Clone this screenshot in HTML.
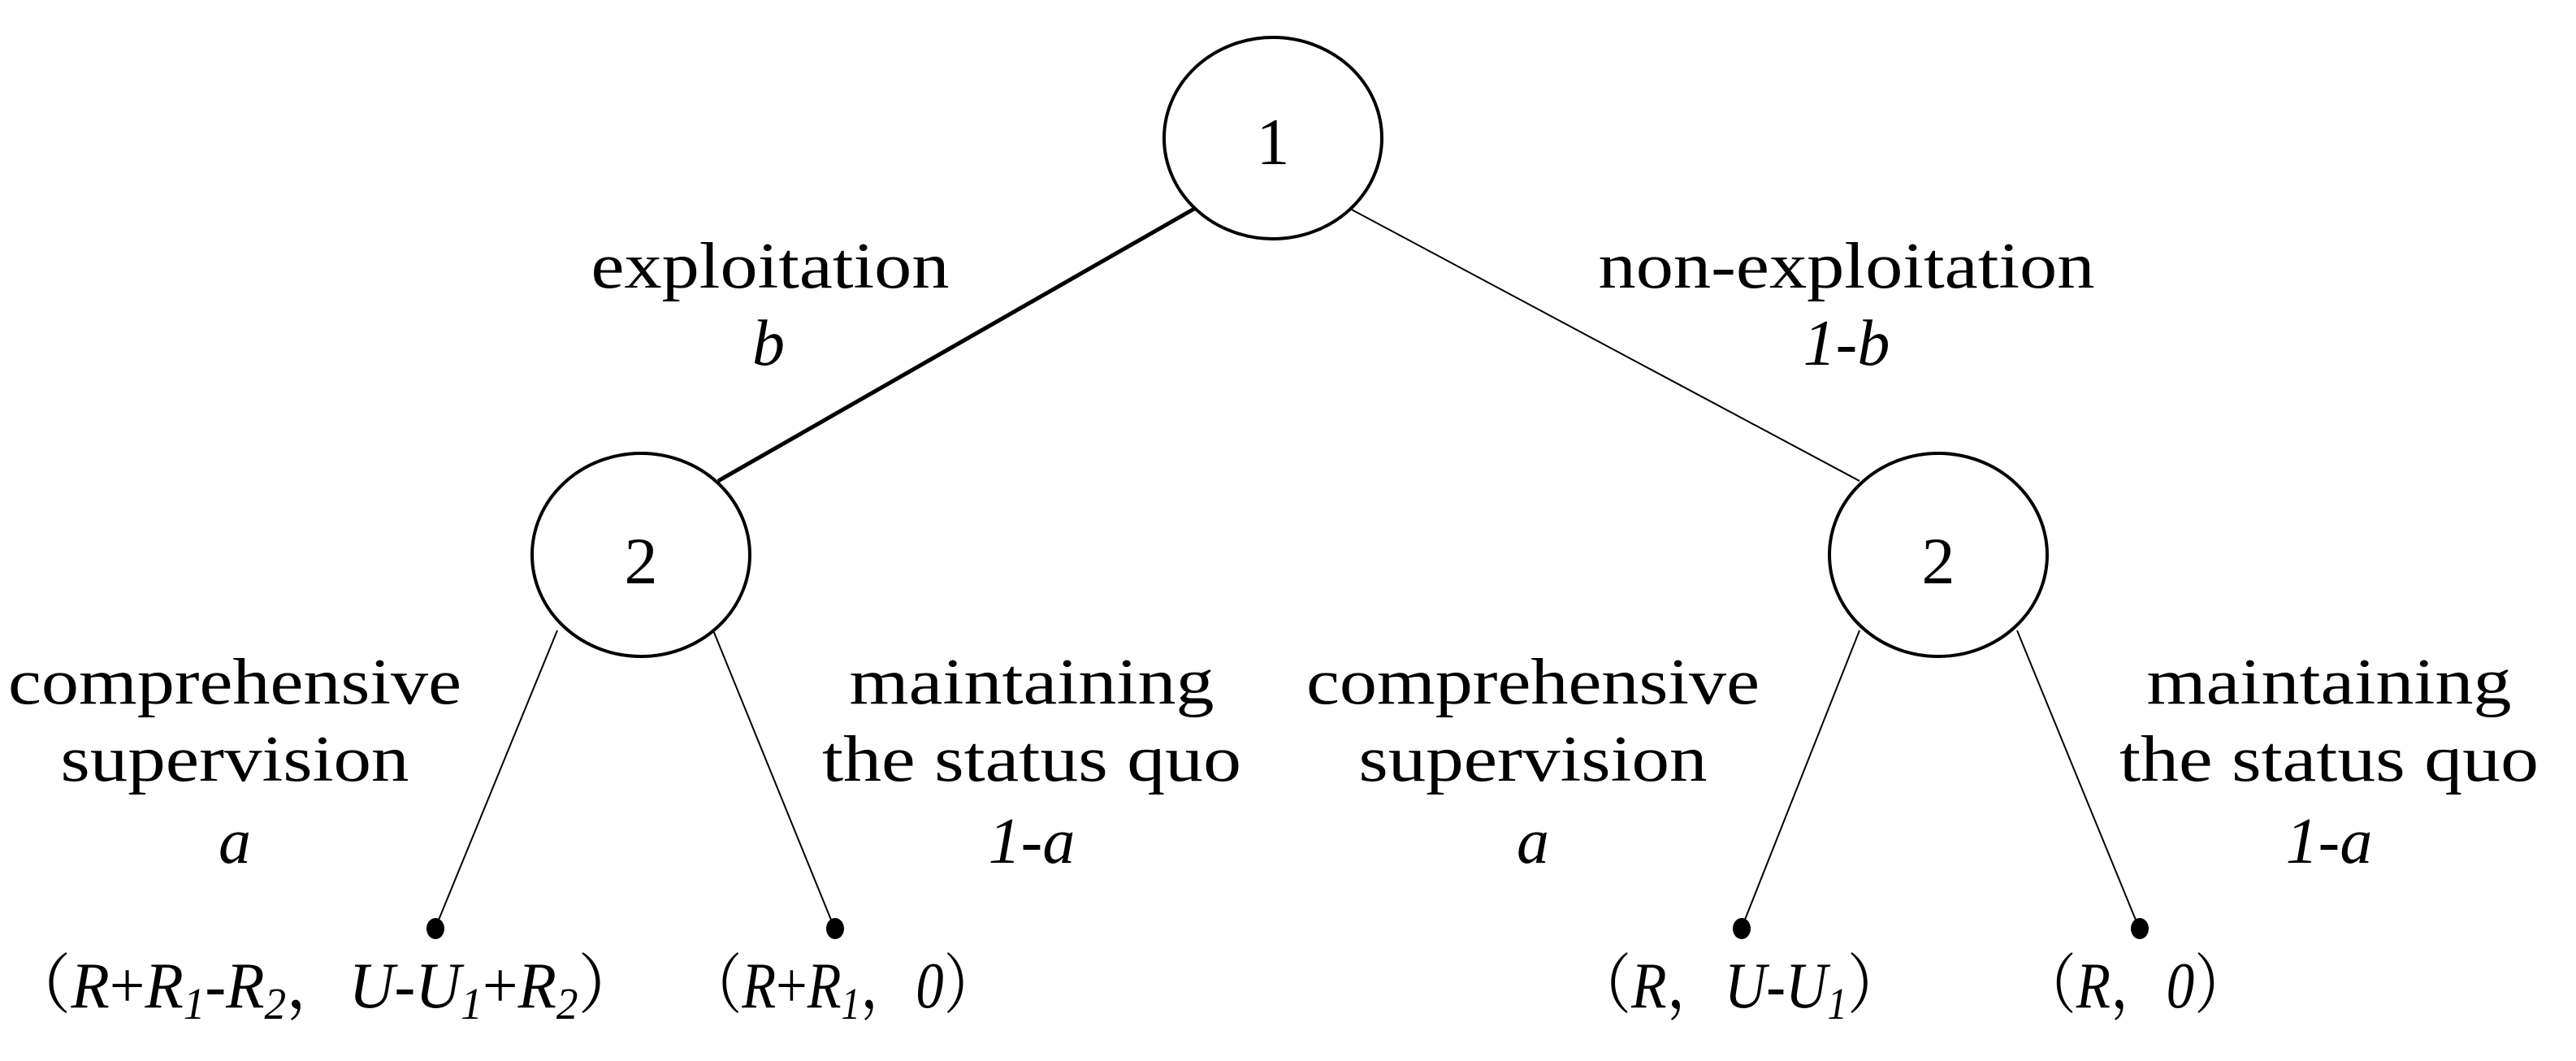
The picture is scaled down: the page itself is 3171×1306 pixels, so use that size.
<!DOCTYPE html>
<html><head><meta charset="utf-8"><style>html,body{margin:0;padding:0;background:#fff}svg{display:block}</style></head>
<body>
<svg width="3171" height="1306" viewBox="0 0 3171 1306" xmlns="http://www.w3.org/2000/svg" font-family="'Liberation Serif','Noto Serif CJK SC',serif" font-size="80" fill="#000">
<g stroke="#000" fill="none">
<ellipse cx="1567" cy="170" rx="134" ry="124" stroke-width="4"/>
<ellipse cx="789" cy="683" rx="134" ry="125" stroke-width="4"/>
<ellipse cx="2386" cy="683" rx="134" ry="125" stroke-width="4"/>
<line x1="1470" y1="257" x2="884" y2="592" stroke-width="5"/>
<line x1="1662" y1="257" x2="2289" y2="592" stroke-width="2"/>
<line x1="686" y1="776" x2="536" y2="1142" stroke-width="2"/>
<line x1="878" y1="776" x2="1027" y2="1142" stroke-width="2"/>
<line x1="2289" y1="776" x2="2144" y2="1142" stroke-width="2"/>
<line x1="2483" y1="776" x2="2633" y2="1142" stroke-width="2"/>
</g>
<ellipse cx="536" cy="1143" rx="11" ry="13"/>
<ellipse cx="1028" cy="1143" rx="11" ry="13"/>
<ellipse cx="2144" cy="1143" rx="11" ry="13"/>
<ellipse cx="2634" cy="1143" rx="11" ry="13"/>
<g text-anchor="middle">
<text x="1567" y="202" font-size="82">1</text>
<text x="789" y="718" font-size="82">2</text>
<text x="2386" y="718" font-size="82">2</text>
<text x="948" y="354" textLength="441" lengthAdjust="spacingAndGlyphs">exploitation</text>
<text x="946" y="449" font-style="italic">b</text>
<text x="2273" y="354" textLength="611" lengthAdjust="spacingAndGlyphs">non-exploitation</text>
<text x="2273" y="449" font-style="italic">1-b</text>
<text x="289" y="866" textLength="558" lengthAdjust="spacingAndGlyphs">comprehensive</text>
<text x="289" y="961" textLength="429" lengthAdjust="spacingAndGlyphs">supervision</text>
<text x="289" y="1062" font-style="italic">a</text>
<text x="1270" y="866" textLength="449" lengthAdjust="spacingAndGlyphs">maintaining</text>
<text x="1270" y="961" textLength="516" lengthAdjust="spacingAndGlyphs">the status quo</text>
<text x="1270" y="1062" font-style="italic">1-a</text>
<text x="1887" y="866" textLength="558" lengthAdjust="spacingAndGlyphs">comprehensive</text>
<text x="1887" y="961" textLength="429" lengthAdjust="spacingAndGlyphs">supervision</text>
<text x="1887" y="1062" font-style="italic">a</text>
<text x="2867" y="866" textLength="449" lengthAdjust="spacingAndGlyphs">maintaining</text>
<text x="2867" y="961" textLength="516" lengthAdjust="spacingAndGlyphs">the status quo</text>
<text x="2867" y="1062" font-style="italic">1-a</text>
</g>
<text x="10" y="1240" textLength="779" lengthAdjust="spacingAndGlyphs">（<tspan font-style="italic">R</tspan>+<tspan font-style="italic">R<tspan font-size="55" dy="14">1</tspan></tspan><tspan dy="-14">-</tspan><tspan font-style="italic">R<tspan font-size="55" dy="14">2</tspan></tspan><tspan dy="-14">，</tspan><tspan font-style="italic">U</tspan>-<tspan font-style="italic">U<tspan font-size="55" dy="14">1</tspan></tspan><tspan dy="-14">+</tspan><tspan font-style="italic">R<tspan font-size="55" dy="14">2</tspan></tspan><tspan dy="-14">）</tspan></text>
<text x="845" y="1240" textLength="385" lengthAdjust="spacingAndGlyphs">（<tspan font-style="italic">R</tspan>+<tspan font-style="italic">R<tspan font-size="55" dy="14">1</tspan></tspan><tspan dy="-14">，</tspan><tspan font-style="italic">0</tspan>）</text>
<text x="1937" y="1240" textLength="408" lengthAdjust="spacingAndGlyphs">（<tspan font-style="italic">R</tspan>，<tspan font-style="italic">U</tspan>-<tspan font-style="italic">U<tspan font-size="55" dy="14">1</tspan></tspan><tspan dy="-14">）</tspan></text>
<text x="2487" y="1240" textLength="283" lengthAdjust="spacingAndGlyphs">（<tspan font-style="italic">R</tspan>，<tspan font-style="italic">0</tspan>）</text>
</svg>
</body></html>
